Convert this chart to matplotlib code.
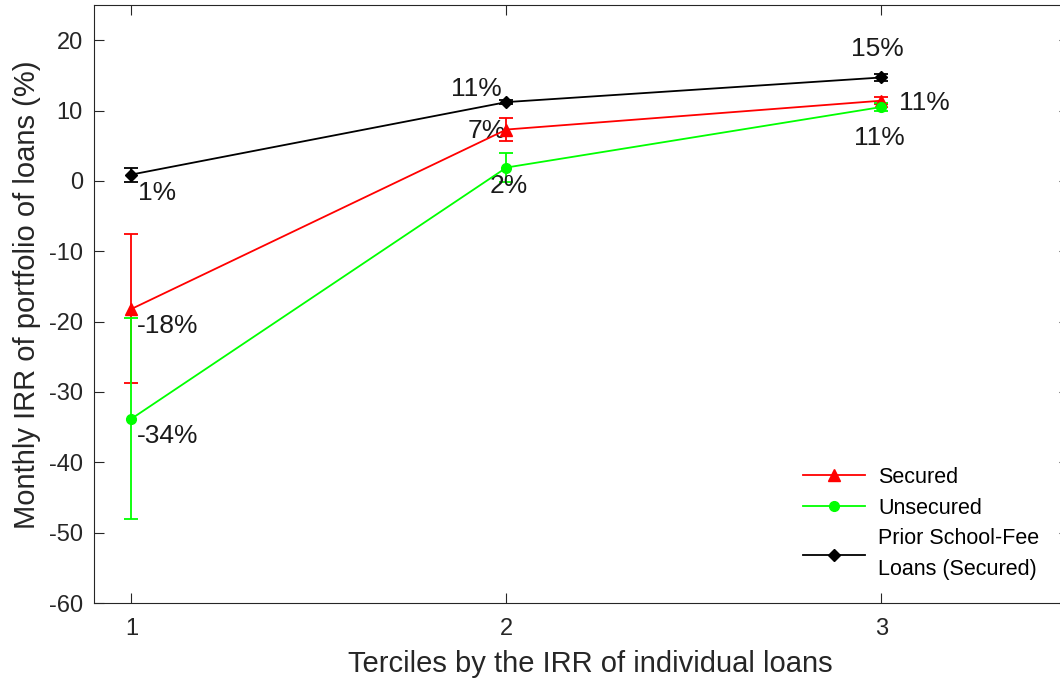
import matplotlib
matplotlib.use("Agg")
import matplotlib.pyplot as plt
from matplotlib.lines import Line2D

# ---- data ----
terciles = [1, 2, 3]
secured = [-18.2, 7.3, 11.4]
secured_err = [10.6, 1.6, 0.5]
unsecured = [-33.8, 1.9, 10.5]
unsecured_err = [14.3, 2.1, 0.5]
prior = [0.9, 11.2, 14.7]
prior_err = [1.0, 0.3, 0.5]
secured_labels = ["-18%", "7%", "11%"]
unsecured_labels = ["-34%", "2%", "11%"]
prior_labels = ["1%", "11%", "15%"]
yticks = [-60, -50, -40, -30, -20, -10, 0, 10, 20]
xticks = [1, 2, 3]

plt.rcParams['font.family'] = ['Liberation Sans', 'DejaVu Sans']
plt.rcParams['axes.unicode_minus'] = False

fig = plt.figure(figsize=(10.6, 6.81), dpi=100)
ax = fig.add_axes([94/1060, 78/681, 975/1060, 598/681])

lw = 1.3
red, green, black = (1, 0, 0), (0, 1, 0), (0, 0, 0)
ax.errorbar(terciles, secured, yerr=secured_err, color=red, marker='^',
            markersize=8, lw=lw, capsize=5, elinewidth=lw, capthick=lw, zorder=3)
ax.errorbar(terciles, unsecured, yerr=unsecured_err, color=green, marker='o',
            markersize=7, lw=lw, capsize=5, elinewidth=lw, capthick=lw, zorder=3)
ax.errorbar(terciles, prior, yerr=prior_err, color=black, marker='D',
            markersize=6, lw=lw, capsize=5, elinewidth=lw, capthick=lw, zorder=4)

fs = 19
# label offsets (data units): dx, dy
sec_off = [(0.097, -2.4), (-0.053, -0.2), (0.115, -0.35)]
uns_off = [(0.097, -2.4), (0.006, -2.6), (-0.005, -4.4)]
pri_off = [(0.067, -2.6), (-0.079, 1.8), (-0.01, 4.1)]
for vals, labs, offs in ((secured, secured_labels, sec_off),
                         (unsecured, unsecured_labels, uns_off),
                         (prior, prior_labels, pri_off)):
    for x, y, t, (dx, dy) in zip(terciles, vals, labs, offs):
        ax.text(x + dx, y + dy, t, fontsize=fs, ha='center', va='center', color='#1a1a1a')

ax.set_xlim(0.9, 3.5)
ax.set_ylim(-60, 25)
ax.set_xticks(xticks)
ax.set_yticks(yticks)
ax.tick_params(direction='in', top=True, right=True, length=7, width=0.8,
               colors='#262626', labelsize=17)
ax.tick_params(axis='y', pad=8)
ax.tick_params(axis='x', pad=11)
for s in ax.spines.values():
    s.set_color('#262626')
    s.set_linewidth(0.8)

ax.set_xlabel('Terciles by the IRR of individual loans', fontsize=21, color='#262626')
ax.set_ylabel('Monthly IRR of portfolio of loans (%)', fontsize=21, color='#262626')
ax.xaxis.set_label_coords(0.509, -0.078)
ax.yaxis.set_label_coords(-0.054, 0.515)

handles = [
    Line2D([], [], color=red, lw=lw, marker='^', markersize=8),
    Line2D([], [], color=green, lw=lw, marker='o', markersize=7),
    Line2D([], [], color=black, lw=lw, marker='D', markersize=6),
]
labels = ['Secured', 'Unsecured', 'Prior School-Fee\nLoans (Secured)']
leg = ax.legend(handles, labels, loc='upper left',
                bbox_to_anchor=(803/1060, (681-467)/681), bbox_transform=fig.transFigure,
                frameon=False, fontsize=15.5, borderpad=0, borderaxespad=0,
                handlelength=2.9, handletextpad=0.6, labelspacing=0.45)
leg.get_texts()[2].set_linespacing(1.6)

fig.savefig('out.png', dpi=100)
